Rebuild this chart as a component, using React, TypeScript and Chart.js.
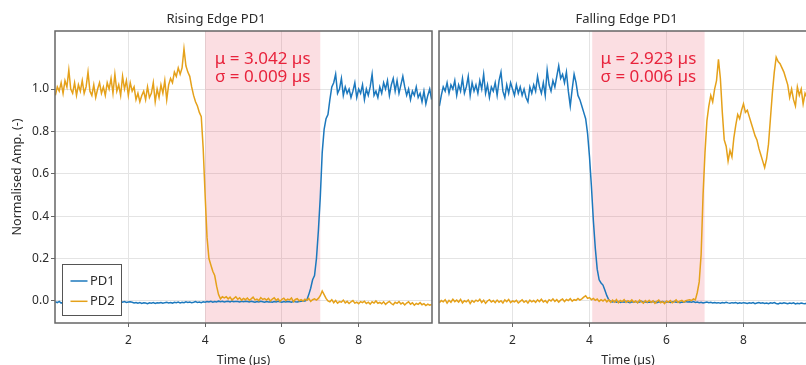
import React, { useEffect, useRef } from 'react';
import { Chart, registerables } from 'chart.js';

Chart.register(...registerables);

// ---------- data ----------
// sampling grid of the oscilloscope traces (µs)
const T_START = 0.1;
const T_STEP = 0.05;
const T_COUNT = 197;
const timeUs: number[] = Array.from({ length: T_COUNT }, (_, i) => +(T_START + i * T_STEP).toFixed(2));

const xTickValues = [2, 4, 6, 8];
const yTickValues = [0, 0.2, 0.4, 0.6, 0.8, 1.0];
const seriesLabels = ['PD1', 'PD2'];
const panelTitles = ['Rising Edge PD1', 'Falling Edge PD1'];
const shadeStart = [4.0, 4.07];
const shadeEnd = [7.0, 6.99];
const muValues = [3.042, 2.923];
const sigmaValues = [0.009, 0.006];

const risingPD1 = [
  -0.004, -0.008, -0.002, -0.010, -0.006, -0.009, -0.004, -0.007, -0.011, -0.005,
  -0.008, -0.003, -0.009, -0.006, -0.010, -0.004, -0.007, -0.009, -0.005, -0.008,
  -0.004, -0.009, -0.006, -0.002, -0.008, -0.005, -0.010, -0.006, -0.003, -0.007,
  -0.009, -0.005, -0.008, -0.004, -0.002, -0.006, -0.003, -0.007, -0.005, -0.004,
  -0.006, -0.009, -0.007, -0.011, -0.008, -0.012, -0.009, -0.010, -0.013, -0.009,
  -0.011, -0.008, -0.012, -0.009, -0.010, -0.007, -0.011, -0.008, -0.006, -0.009,
  -0.007, -0.010, -0.006, -0.008, -0.005, -0.009, -0.006, -0.008, -0.004, -0.007,
  -0.005, -0.008, -0.006, -0.003, -0.007, -0.005, -0.008, -0.004, -0.006, -0.003,
  -0.005, -0.002, -0.006, -0.003, -0.005, -0.001, -0.004, -0.002, -0.005, -0.003,
  -0.002, -0.005, -0.001, -0.004, -0.002, -0.003, -0.005, -0.002, -0.004, -0.001,
  -0.003, -0.005, -0.002, -0.004, -0.006, -0.003, -0.005, -0.002, -0.004, -0.006,
  -0.003, -0.005, -0.004, -0.006, -0.003, -0.005, -0.002, -0.004, -0.006, -0.003,
  -0.005, -0.003, -0.004, -0.006, -0.002, -0.004, -0.005, -0.003, -0.001, 0.000,
  0.000, 0.005, 0.030, 0.060, 0.100, 0.120, 0.200, 0.330, 0.490, 0.700,
  0.81, 0.86, 0.88, 0.95, 1.01, 1.03, 1.07, 0.98, 1.00, 1.05,
  0.97, 1.01, 0.98, 1.00, 0.96, 0.99, 1.03, 0.96, 1.00, 0.98,
  1.02, 0.95, 1.00, 0.97, 1.01, 1.07, 0.97, 0.99, 0.96, 1.01,
  0.98, 1.03, 1.00, 1.04, 0.97, 1.02, 1.05, 0.99, 1.04, 0.98,
  1.02, 1.06, 1.01, 0.97, 1.00, 0.95, 0.99, 0.97, 1.01, 0.96,
  0.98, 0.94, 0.99, 0.93, 0.97, 1.00, 0.95,
];

const risingPD2 = [
  0.97, 1.01, 0.99, 1.03, 0.98, 1.04, 1.01, 1.09, 1.00, 0.98,
  1.03, 0.97, 1.02, 0.99, 1.04, 0.98, 1.01, 1.08, 0.99, 0.97,
  1.02, 0.96, 1.00, 1.03, 0.98, 1.01, 0.97, 1.03, 1.00, 1.05,
  0.98, 1.07, 0.99, 1.02, 0.97, 1.06, 1.00, 1.04, 0.97, 1.03,
  0.99, 1.01, 0.95, 0.98, 0.94, 0.97, 0.99, 0.95, 1.01, 0.96,
  0.98, 1.03, 0.94, 1.00, 0.96, 1.02, 0.98, 1.04, 0.95, 1.02,
  1.05, 1.03, 1.08, 1.06, 1.10, 1.07, 1.10, 1.19, 1.11, 1.08,
  1.06, 1.01, 0.97, 0.94, 0.92, 0.89, 0.87, 0.72, 0.50, 0.30,
  0.20, 0.17, 0.14, 0.12, 0.07, 0.03, 0.010, 0.020, 0.015, 0.020,
  0.010, 0.018, 0.005, 0.012, 0.020, 0.008, 0.015, 0.004, 0.012, 0.006,
  0.014, 0.003, 0.010, 0.018, 0.005, 0.009, 0.002, 0.016, 0.007, 0.011,
  0.004, 0.012, 0.000, 0.009, 0.015, 0.003, 0.010, -0.002, 0.008, 0.013,
  0.002, 0.009, 0.005, 0.014, -0.003, 0.007, 0.011, 0.001, 0.006, 0.000,
  0.008, 0.003, 0.012, -0.002, 0.006, 0.010, 0.004, 0.012, 0.025, 0.047,
  0.030, 0.012, 0.000, -0.004, 0.006, -0.008, 0.002, -0.010, -0.003, -0.006,
  0.004, -0.009, -0.002, -0.012, -0.004, 0.002, -0.010, -0.006, -0.013, -0.003,
  -0.008, -0.001, -0.012, -0.006, -0.015, -0.004, -0.010, 0.000, -0.011, -0.007,
  -0.013, -0.004, -0.016, -0.008, -0.002, -0.012, -0.018, -0.006, -0.011, -0.003,
  -0.014, -0.008, -0.019, -0.010, -0.004, -0.015, -0.009, -0.020, -0.012, -0.016,
  -0.008, -0.018, -0.013, -0.022, -0.015, -0.020, -0.017,
];

const fallingPD1 = [
  0.92, 0.97, 1.01, 0.99, 1.03, 0.98, 1.02, 1.00, 1.04, 0.97,
  1.02, 0.99, 1.05, 0.98, 1.01, 1.06, 0.97, 1.03, 0.99, 1.02,
  0.98, 1.04, 1.00, 1.07, 0.98, 1.02, 0.96, 1.01, 0.99, 1.03,
  0.97, 1.04, 1.08, 0.99, 0.96, 1.02, 0.98, 1.03, 1.00, 0.97,
  1.02, 0.98, 1.01, 0.97, 1.00, 0.96, 0.94, 1.01, 0.98, 1.02,
  0.99, 1.06, 1.01, 0.98, 1.03, 0.97, 1.09, 1.02, 0.99, 1.04,
  1.01, 1.06, 1.11, 1.05, 1.07, 1.03, 1.08, 0.99, 0.92, 1.00,
  1.07, 1.03, 0.97, 0.95, 0.92, 0.89, 0.86, 0.79, 0.68, 0.54,
  0.38, 0.25, 0.15, 0.10, 0.085, 0.075, 0.050, 0.025, 0.005, -0.003,
  -0.005, -0.002, -0.006, -0.003, -0.007, -0.004, -0.006, -0.002, -0.005, -0.008,
  -0.004, -0.006, -0.003, -0.007, -0.005, -0.002, -0.006, -0.004, -0.007, -0.005,
  -0.006, -0.003, -0.005, -0.008, -0.004, -0.006, -0.003, -0.007, -0.005, -0.004,
  -0.007, -0.005, -0.003, -0.006, -0.004, -0.008, -0.005, -0.006, -0.003, -0.005,
  -0.004, -0.006, -0.003, -0.007, -0.005, -0.008, -0.006, -0.009, -0.007, -0.005,
  -0.008, -0.006, -0.009, -0.007, -0.010, -0.008, -0.011, -0.007, -0.009, -0.006,
  -0.009, -0.011, -0.008, -0.010, -0.007, -0.012, -0.009, -0.011, -0.008, -0.010,
  -0.012, -0.009, -0.011, -0.008, -0.013, -0.010, -0.007, -0.011, -0.009, -0.012,
  -0.010, -0.013, -0.009, -0.011, -0.008, -0.012, -0.014, -0.010, -0.012, -0.009,
  -0.011, -0.013, -0.010, -0.012, -0.009, -0.014, -0.011, -0.013, -0.010, -0.012,
  -0.013, -0.010, -0.012, -0.014, -0.011, -0.013, -0.012,
];

const fallingPD2 = [
  -0.008, 0.002, -0.004, 0.006, -0.010, 0.003, -0.006, 0.008, -0.003, 0.004,
  -0.005, 0.007, -0.009, 0.001, -0.004, 0.005, -0.012, 0.002, -0.006, 0.004,
  -0.002, 0.008, -0.007, 0.003, -0.011, 0.000, 0.006, -0.005, 0.002, -0.008,
  0.004, -0.006, 0.001, -0.010, 0.005, -0.003, 0.007, -0.008, 0.000, -0.004,
  0.003, -0.009, -0.002, 0.005, -0.006, 0.001, -0.010, 0.004, -0.004, 0.002,
  -0.007, 0.005, -0.003, 0.008, -0.005, 0.002, -0.008, 0.006, 0.000, 0.010,
  -0.002, 0.006, -0.005, 0.004, 0.009, -0.003, 0.007, 0.002, 0.011, -0.001,
  0.006, 0.003, 0.012, 0.004, 0.010, 0.018, 0.024, 0.012, 0.016, 0.006,
  0.012, 0.003, 0.009, -0.002, 0.006, 0.000, 0.008, -0.004, 0.005, -0.006,
  0.004, -0.005, 0.007, -0.008, 0.002, -0.003, 0.006, -0.007, 0.001, -0.004,
  0.005, -0.006, 0.000, -0.009, 0.004, -0.003, -0.010, 0.002, -0.006, 0.003,
  -0.007, 0.001, -0.011, -0.002, 0.004, -0.008, -0.003, -0.012, 0.000, -0.006,
  0.002, -0.009, -0.003, 0.005, -0.007, -0.001, 0.003, -0.005, 0.001, 0.004,
  0.006, 0.002, 0.010, 0.005, 0.040, 0.090, 0.220, 0.500, 0.700, 0.850,
  0.92, 0.97, 0.94, 1.00, 1.04, 1.14, 1.05, 0.89, 0.76, 0.73,
  0.66, 0.71, 0.68, 0.77, 0.83, 0.88, 0.86, 0.90, 0.93, 0.89,
  0.90, 0.87, 0.84, 0.81, 0.78, 0.76, 0.72, 0.69, 0.66, 0.63,
  0.67, 0.74, 0.86, 0.98, 1.08, 1.15, 1.13, 1.12, 1.10, 1.08,
  1.05, 1.02, 0.96, 1.00, 0.95, 0.92, 1.01, 0.97, 1.00, 0.93,
  0.98, 0.96, 1.00, 0.97, 0.99, 0.95, 0.98,
];

// ---------- styles ----------
const FONT = '"Noto Sans", "DejaVu Sans", sans-serif';
const BLUE = '#1c78bd';
const ORANGE = '#e5a11a';
const SHADE = 'rgba(235, 90, 110, 0.2)';
const STAT_RED = '#e8233c';
const GRID = '#e4e4e4';
const FRAME = '#666666';
const TEXT = '#2b2b2b';

const X_MIN = 0.09;
const X_MAX = 9.91;
const Y_MIN = -0.104;
const Y_MAX = 1.274;

type PanelSpec = {
  index: number;
  pd1: number[];
  pd2: number[];
  showYAxis: boolean;
  showLegend: boolean;
  canvasWidth: number;
  left: number;
  padRight: number;
  yWidth: number;
};

function decorPlugin(spec: PanelSpec) {
  return {
    id: 'panelDecor' + spec.index,
    beforeDatasetsDraw(chart: any) {
      const { ctx, chartArea: a, scales } = chart;
      const x0 = scales.x.getPixelForValue(shadeStart[spec.index]);
      const x1 = scales.x.getPixelForValue(shadeEnd[spec.index]);
      ctx.save();
      ctx.fillStyle = SHADE;
      ctx.fillRect(x0, a.top, x1 - x0, a.bottom - a.top);
      ctx.restore();
    },
    afterDatasetsDraw(chart: any) {
      const { ctx, chartArea: a, scales } = chart;
      const x0 = scales.x.getPixelForValue(shadeStart[spec.index]);
      const x1 = scales.x.getPixelForValue(shadeEnd[spec.index]);
      const cx = (x0 + x1) / 2;
      ctx.save();
      ctx.fillStyle = STAT_RED;
      ctx.font = `17px ${FONT}`;
      ctx.textAlign = 'center';
      ctx.textBaseline = 'middle';
      ctx.fillText(`μ = ${muValues[spec.index].toFixed(3)} µs`, cx, a.top + 28.5);
      ctx.fillText(`σ = ${sigmaValues[spec.index].toFixed(3)} µs`, cx, a.top + 46);

      if (spec.showLegend) {
        const bx = a.left + 7.5;
        const by = a.bottom - 58.5;
        ctx.fillStyle = '#ffffff';
        ctx.fillRect(bx, by, 59, 51);
        ctx.strokeStyle = '#555555';
        ctx.lineWidth = 1;
        ctx.strokeRect(bx, by, 59, 51);
        chart.data.datasets.forEach((ds: any, i: number) => {
          const ly = by + 16.5 + i * 20.3;
          ctx.strokeStyle = ds.borderColor;
          ctx.lineWidth = 1.5;
          ctx.beginPath();
          ctx.moveTo(bx + 8, ly);
          ctx.lineTo(bx + 25, ly);
          ctx.stroke();
          ctx.fillStyle = TEXT;
          ctx.font = `13px ${FONT}`;
          ctx.textAlign = 'left';
          ctx.textBaseline = 'middle';
          ctx.fillText(ds.label, bx + 27.5, ly);
        });
      }

      ctx.strokeStyle = FRAME;
      ctx.lineWidth = 1.5;
      ctx.strokeRect(a.left, a.top, a.right - a.left, a.bottom - a.top);
      ctx.restore();
    },
  };
}

function buildConfig(spec: PanelSpec): any {
  const colors = [BLUE, ORANGE];
  const series = [spec.pd1, spec.pd2];
  return {
    type: 'line',
    data: {
      datasets: series.map((vals, s) => ({
        label: seriesLabels[s],
        data: timeUs.map((t, i) => ({ x: t, y: vals[i] })),
        borderColor: colors[s],
        backgroundColor: colors[s],
        borderWidth: 1.5,
        pointRadius: 0,
        tension: 0,
        order: s === 0 ? 1 : 0,
      })),
    },
    options: {
      animation: false,
      responsive: false,
      maintainAspectRatio: false,
      events: [],
      layout: { padding: { left: 0, right: spec.padRight, top: 0, bottom: 0 } },
      plugins: {
        legend: { display: false },
        tooltip: { enabled: false },
        title: {
          display: true,
          text: panelTitles[spec.index],
          color: TEXT,
          font: { family: FONT, size: 13, weight: 'normal' },
          padding: { top: 11, bottom: 4.4 },
        },
      },
      scales: {
        x: {
          type: 'linear',
          min: X_MIN,
          max: X_MAX,
          afterBuildTicks: (s: any) => {
            s.ticks = xTickValues.map((v) => ({ value: v }));
          },
          afterFit: (s: any) => {
            s.height = 57;
          },
          border: { display: false },
          grid: { color: GRID, tickColor: FRAME, tickLength: 4, drawTicks: true },
          ticks: {
            color: TEXT,
            font: { family: FONT, size: 12 },
            padding: 6,
            maxRotation: 0,
            callback: (v: any) => String(v),
          },
          title: {
            display: true,
            text: 'Time (µs)',
            color: TEXT,
            font: { family: FONT, size: 12.5 },
            padding: { top: 0, bottom: 12.5 },
          },
        },
        y: {
          type: 'linear',
          min: Y_MIN,
          max: Y_MAX,
          afterBuildTicks: (s: any) => {
            s.ticks = yTickValues.map((v) => ({ value: v }));
          },
          afterFit: (s: any) => {
            s.width = spec.yWidth;
          },
          border: { display: false },
          grid: { color: GRID, tickColor: FRAME, tickLength: 4, drawTicks: spec.showYAxis },
          ticks: {
            display: spec.showYAxis,
            color: TEXT,
            font: { family: FONT, size: 12 },
            padding: 2,
            callback: (v: any) => Number(v).toFixed(1),
          },
          title: {
            display: spec.showYAxis,
            text: 'Normalised Amp. (-)',
            color: TEXT,
            font: { family: FONT, size: 12.5 },
            padding: { top: 10, bottom: 0 },
          },
        },
      },
    },
    plugins: [decorPlugin(spec)],
  };
}

const CANVAS_HEIGHT = 380;

function Panel({ spec }: { spec: PanelSpec }) {
  const ref = useRef<HTMLCanvasElement | null>(null);
  useEffect(() => {
    if (!ref.current) return;
    const chart = new Chart(ref.current, buildConfig(spec));
    return () => chart.destroy();
  }, []);
  return (
    <canvas
      ref={ref}
      width={spec.canvasWidth}
      height={CANVAS_HEIGHT}
      style={{
        position: 'absolute',
        left: spec.left,
        top: 0,
        width: spec.canvasWidth,
        height: CANVAS_HEIGHT,
      }}
    />
  );
}

const panels: PanelSpec[] = [
  { index: 0, pd1: risingPD1, pd2: risingPD2, showYAxis: true, showLegend: true, canvasWidth: 436, left: 0, padRight: 4, yWidth: 55 },
  { index: 1, pd1: fallingPD1, pd2: fallingPD2, showYAxis: false, showLegend: false, canvasWidth: 392, left: 436, padRight: 11, yWidth: 3 },
];

export default function App() {
  return (
    <div
      style={{
        position: 'absolute',
        left: 0,
        top: 0,
        width: 806,
        height: 365,
        overflow: 'hidden',
        background: '#ffffff',
      }}
    >
      {panels.map((p) => (
        <Panel key={p.index} spec={p} />
      ))}
    </div>
  );
}
